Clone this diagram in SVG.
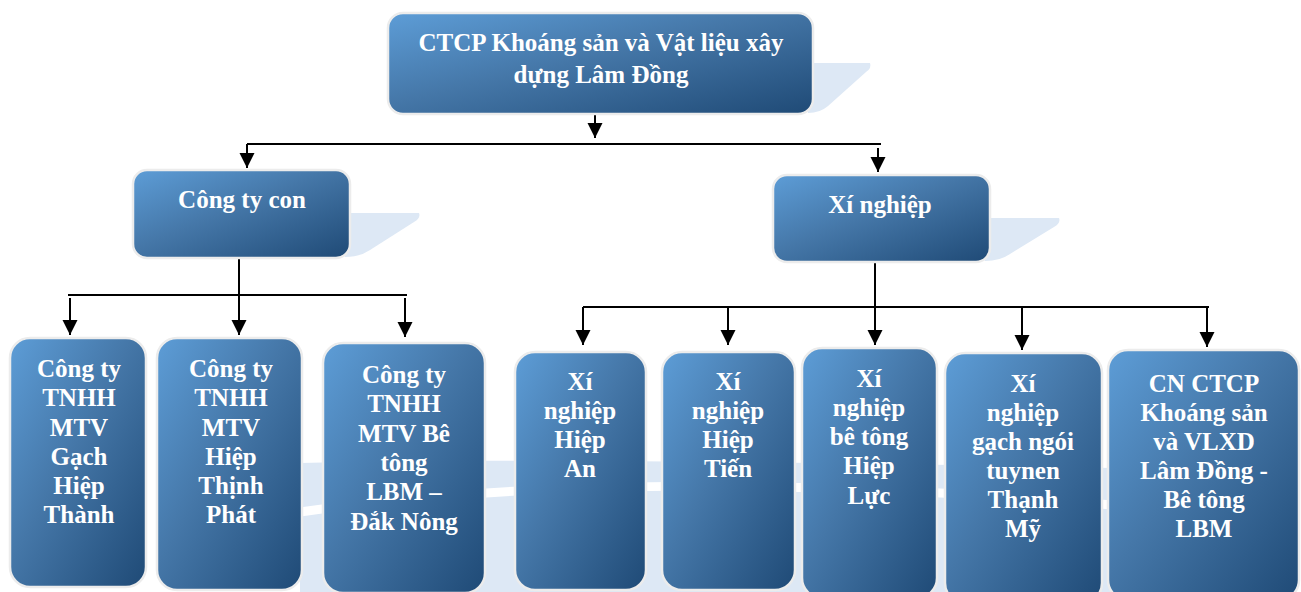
<svg xmlns="http://www.w3.org/2000/svg" width="1301" height="592" viewBox="0 0 1301 592">
<defs>
<linearGradient id="boxg" x1="0" y1="0" x2="1" y2="1">
<stop offset="0" stop-color="#5d9dd7"/>
<stop offset="0.45" stop-color="#4577a8"/>
<stop offset="1" stop-color="#1f4a76"/>
</linearGradient>
<marker id="arr" markerUnits="userSpaceOnUse" markerWidth="16" markerHeight="16" refX="15" refY="7.5" orient="auto">
<path d="M0,0 L15,7.5 L0,15 Z" fill="#000"/>
</marker>
<style>
.box{fill:url(#boxg);stroke:#ececec;stroke-width:2.5}
.sh{fill:#dde8f5}
.t{font-family:"Liberation Serif","Times New Roman",serif;font-weight:bold;font-size:25px;fill:#ffffff;text-anchor:middle}
.c{fill:none;stroke:#000;stroke-width:2}
.ca{fill:none;stroke:#000;stroke-width:2;marker-end:url(#arr)}
</style>
</defs>
<rect width="1301" height="592" fill="#ffffff"/>
<g id="background">
<path class="sh" d="M300 463 C500 458 800 462 1112 468 L1112 592 L300 592 Z"/>
<path d="M300 512 C520 480 800 478 1112 505" fill="none" stroke="#ffffff" stroke-width="9"/>
<path class="sh" d="M800 63 L870 63 Q872 68 866 72 L828 106 Q820 113 808 113 Z"/>
<path class="sh" d="M340 213 L419 213 Q421 218 414 222 L370 250 Q360 257 345 257 Z"/>
<path class="sh" d="M980 218 L1059 218 Q1061 223 1054 227 L1010 254 Q1000 261 985 261 Z"/>
</g>
<g id="connectors">
<path class="ca" d="M595 114 V138"/>
<path class="c" d="M247 144 H881"/>
<path class="ca" d="M247 144 V168"/>
<path class="ca" d="M878 148 V172"/>
<path class="ca" d="M239 258 V335"/>
<path class="c" d="M68 295 H407"/>
<path class="ca" d="M70 298 V335"/>
<path class="ca" d="M405 298 V337"/>
<path class="ca" d="M875 262 V345"/>
<path class="c" d="M583 307 H1209"/>
<path class="ca" d="M583 307 V345"/>
<path class="ca" d="M728 307 V345"/>
<path class="ca" d="M1022 307 V350"/>
<path class="ca" d="M1207 307 V347"/>
</g>
<g id="root">
<rect class="box" x="388" y="13" width="425" height="101" rx="15"/>
<text class="t" x="601" y="51">CTCP Khoáng sản và Vật liệu xây</text>
<text class="t" x="601" y="83">dựng Lâm Đồng</text>
</g>
<g id="cong-ty-con">
<rect class="box" x="133" y="170" width="217" height="88" rx="14"/>
<text class="t" x="242" y="208">Công ty con</text>
</g>
<g id="xi-nghiep">
<rect class="box" x="773" y="175" width="217" height="87" rx="14"/>
<text class="t" x="880" y="213">Xí nghiệp</text>
</g>
<g id="n1">
<rect class="box" x="10" y="338" width="136" height="249" rx="20"/>
<text class="t" x="79" y="377">Công ty</text>
<text class="t" x="79" y="406">TNHH</text>
<text class="t" x="79" y="435.5">MTV</text>
<text class="t" x="79" y="465">Gạch</text>
<text class="t" x="79" y="494">Hiệp</text>
<text class="t" x="79" y="523">Thành</text>
</g>
<g id="n2">
<rect class="box" x="157" y="338" width="145" height="252" rx="20"/>
<text class="t" x="231" y="377">Công ty</text>
<text class="t" x="231" y="406">TNHH</text>
<text class="t" x="231" y="435.5">MTV</text>
<text class="t" x="231" y="465">Hiệp</text>
<text class="t" x="231" y="494">Thịnh</text>
<text class="t" x="231" y="523">Phát</text>
</g>
<g id="n3">
<rect class="box" x="323" y="343" width="162" height="250" rx="20"/>
<text class="t" x="404" y="383">Công ty</text>
<text class="t" x="404" y="412">TNHH</text>
<text class="t" x="404" y="442">MTV Bê</text>
<text class="t" x="404" y="471">tông</text>
<text class="t" x="404" y="500">LBM –</text>
<text class="t" x="404" y="530">Đắk Nông</text>
</g>
<g id="n4">
<rect class="box" x="515" y="352" width="131" height="238" rx="20"/>
<text class="t" x="580" y="390">Xí</text>
<text class="t" x="580" y="419">nghiệp</text>
<text class="t" x="580" y="448">Hiệp</text>
<text class="t" x="580" y="477">An</text>
</g>
<g id="n5">
<rect class="box" x="662" y="352" width="133" height="238" rx="20"/>
<text class="t" x="728" y="390">Xí</text>
<text class="t" x="728" y="419">nghiệp</text>
<text class="t" x="728" y="448">Hiệp</text>
<text class="t" x="728" y="477">Tiến</text>
</g>
<g id="n6">
<rect class="box" x="802" y="348" width="135" height="250" rx="20"/>
<text class="t" x="869" y="387">Xí</text>
<text class="t" x="869" y="416">nghiệp</text>
<text class="t" x="869" y="445">bê tông</text>
<text class="t" x="869" y="474">Hiệp</text>
<text class="t" x="869" y="504">Lực</text>
</g>
<g id="n7">
<rect class="box" x="945" y="353" width="157" height="250" rx="20"/>
<text class="t" x="1023" y="392">Xí</text>
<text class="t" x="1023" y="421">nghiệp</text>
<text class="t" x="1023" y="450">gạch ngói</text>
<text class="t" x="1023" y="479">tuynen</text>
<text class="t" x="1023" y="508">Thạnh</text>
<text class="t" x="1023" y="537">Mỹ</text>
</g>
<g id="n8">
<rect class="box" x="1108" y="350" width="191" height="250" rx="20"/>
<text class="t" x="1204" y="392">CN CTCP</text>
<text class="t" x="1204" y="421">Khoáng sản</text>
<text class="t" x="1204" y="450">và VLXD</text>
<text class="t" x="1204" y="479">Lâm Đồng -</text>
<text class="t" x="1204" y="508">Bê tông</text>
<text class="t" x="1204" y="537">LBM</text>
</g>
</svg>
